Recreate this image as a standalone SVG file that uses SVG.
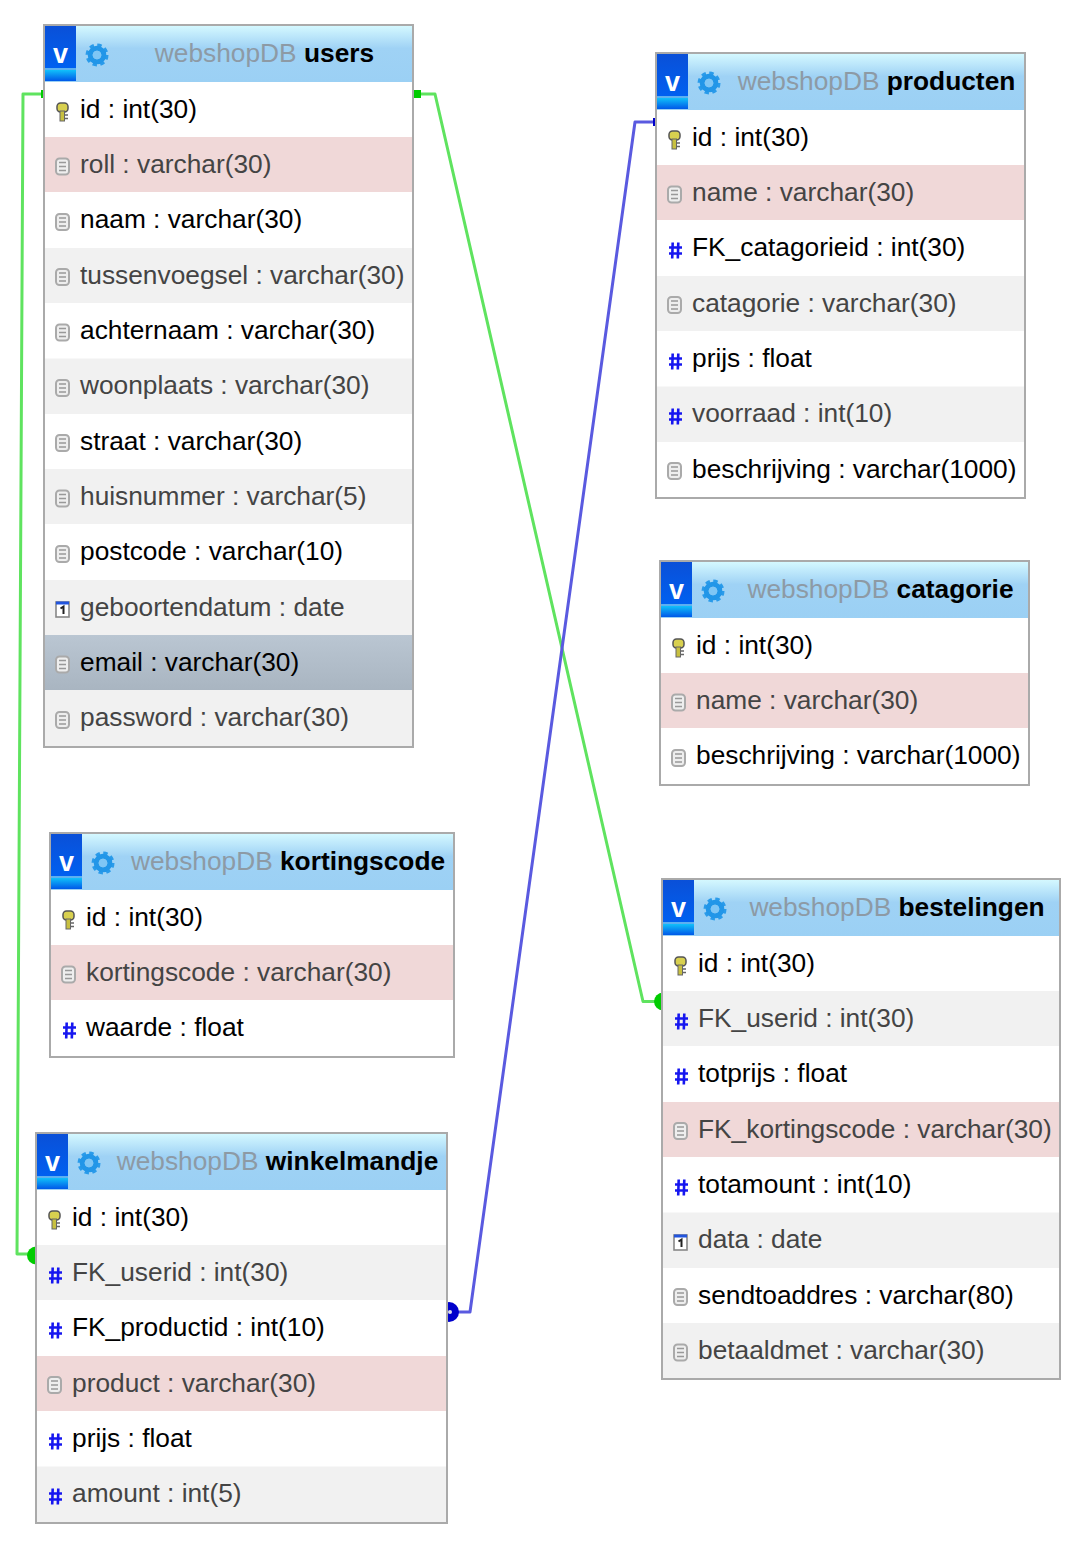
<svg xmlns="http://www.w3.org/2000/svg" width="1075" height="1542" viewBox="0 0 1075 1542">
<style>
text{font-family:"Liberation Sans",Arial,sans-serif;font-size:26.3px;fill:#000}
.frame{fill:#fff;stroke:#aaa;stroke-width:2}
.head{fill:url(#hg)}
.alt{fill:#f1f1f1}
.pink{fill:#f0d8d8}
.sel{fill:url(#sg)}
.dim{fill:#444}
.db{fill:#8d9aa5;font-weight:normal}
.tt{font-weight:bold;text-anchor:middle}
.g{fill:none;stroke:#5fe35f;stroke-width:3;stroke-linejoin:round}
.b{fill:none;stroke:#5a5ae0;stroke-width:3;stroke-linejoin:round}
</style>
<defs>
<filter id="soft" x="-30%" y="-30%" width="160%" height="160%"><feGaussianBlur stdDeviation="0.45"/></filter>
<linearGradient id="hg" x1="0" y1="0" x2="0" y2="1"><stop offset="0" stop-color="#d4f8ff"/><stop offset=".4" stop-color="#9fd2f5"/><stop offset="1" stop-color="#9bd0f4"/></linearGradient>
<linearGradient id="sg" x1="0" y1="0" x2="0" y2="1"><stop offset="0" stop-color="#bac6d2"/><stop offset="1" stop-color="#a9b5c1"/></linearGradient>
<linearGradient id="v1" x1="0" y1="0" x2="0" y2="1"><stop offset="0" stop-color="#0a50d8"/><stop offset="1" stop-color="#0060f0"/></linearGradient>
<linearGradient id="v2" x1="0" y1="0" x2="0" y2="1"><stop offset="0" stop-color="#10c0fa"/><stop offset="1" stop-color="#0058e8"/></linearGradient>
<g id="badge">
<rect x="1" y="1" width="31" height="55" fill="#5cb0f0"/>
<rect x="1" y="1" width="31" height="42" fill="url(#v1)"/>
<rect x="1" y="45" width="31" height="11" fill="url(#v2)"/>
<text x="16.500" y="38" text-anchor="middle" style="font-weight:bold;font-size:27px;fill:#fff">v</text>
<g filter="url(#soft)">
<circle cx="53" cy="30" r="10" fill="none" stroke="#2a9bea" stroke-width="3" stroke-dasharray="4.400 3.450"/>
<circle cx="53" cy="30" r="6.800" fill="none" stroke="#2196e8" stroke-width="5"/>
<circle cx="53" cy="30" r="4.300" fill="#7fc6f5"/>
</g>
</g>
<g id="key" filter="url(#soft)">
<rect x="-5.500" y="-9" width="11" height="9" rx="3.500" fill="#d8d050" stroke="#555" stroke-width="1.500"/>
<rect x="-2.500" y="-1" width="4.500" height="10" fill="#c8c040" stroke="#666" stroke-width="1"/>
<path d="M2 3h3.500M2 6.500h3.500" stroke="#666" stroke-width="1.500"/>
</g>
<g id="doc" filter="url(#soft)">
<rect x="-6.500" y="-8" width="13" height="16" rx="3.500" fill="#eee" stroke="#aaa" stroke-width="2"/>
<path d="M-3.500-4h7M-3.500 0h7M-3.500 4h7" stroke="#999" stroke-width="1.400"/>
</g>
<g id="num" filter="url(#soft)">
<path d="M-2.800-8-3.300 8M2.800-8 2.300 8M-6.500-3H6.500M-6.500 3H6.500" stroke="#1818f0" stroke-width="2.600" fill="none"/>
</g>
<g id="cal" filter="url(#soft)">
<rect x="-6.500" y="-7" width="13" height="15" fill="#fff" stroke="#888" stroke-width="1.600"/>
<rect x="-6.500" y="-7.500" width="13" height="3" fill="#2255dd"/>
<path d="M-2-.5 1-2.500V5" fill="none" stroke="#222" stroke-width="2"/>
</g>
</defs>

<g id="connectors">
<path class="g" d="M42 94H23L17 1254H30"/>
<rect x="41" y="90" width="3" height="8" fill="#00cc00"/>
<circle cx="36" cy="1255.500" r="9" fill="#00cc00"/>
<path class="g" d="M418 94H435L643 1001.500H656"/>
<rect x="414" y="90" width="7" height="8" fill="#00cc00"/>
<circle cx="663" cy="1001.500" r="9" fill="#00cc00"/>
<path class="b" d="M455 1312H470L635 122H654"/>
<rect x="653" y="118" width="3" height="8" fill="#0000cc"/>
<circle cx="449" cy="1312" r="10" fill="#0000cc"/>
<circle cx="450" cy="1312" r="2" fill="#dde"/>
</g>

<g id="users" transform="translate(44 25)">
<rect class="frame" x="0" y="0" width="369" height="722"/>
<rect class="head" x="1" y="1" width="367" height="56"/>
<use href="#badge"/>
<text class="tt" x="220.500" y="37"><tspan class="db">webshopDB</tspan> users</text>
<rect class="pink" x="1" y="112" width="367" height="55"/>
<rect class="alt" x="1" y="223" width="367" height="55"/>
<rect class="alt" x="1" y="333.500" width="367" height="55.500"/>
<rect class="alt" x="1" y="444" width="367" height="55"/>
<rect class="alt" x="1" y="555" width="367" height="55"/>
<rect class="sel" x="1" y="610" width="367" height="55"/>
<rect class="alt" x="1" y="665" width="367" height="56"/>
<use href="#key" x="18.500" y="87"/><text x="36" y="92.500">id : int(30)</text>
<use href="#doc" x="18.500" y="141.500"/><text class="dim" x="36" y="147.800">roll : varchar(30)</text>
<use href="#doc" x="18.500" y="197"/><text x="36" y="203.200">naam : varchar(30)</text>
<use href="#doc" x="18.500" y="252"/><text class="dim" x="36" y="258.500">tussenvoegsel : varchar(30)</text>
<use href="#doc" x="18.500" y="307.500"/><text x="36" y="313.800">achternaam : varchar(30)</text>
<use href="#doc" x="18.500" y="363"/><text class="dim" x="36" y="369.200">woonplaats : varchar(30)</text>
<use href="#doc" x="18.500" y="418"/><text x="36" y="424.500">straat : varchar(30)</text>
<use href="#doc" x="18.500" y="473.500"/><text class="dim" x="36" y="479.800">huisnummer : varchar(5)</text>
<use href="#doc" x="18.500" y="529"/><text x="36" y="535.200">postcode : varchar(10)</text>
<use href="#cal" x="18.500" y="584"/><text class="dim" x="36" y="590.500">geboortendatum : date</text>
<use href="#doc" x="18.500" y="639.500"/><text x="36" y="645.800">email : varchar(30)</text>
<use href="#doc" x="18.500" y="695"/><text class="dim" x="36" y="701.200">password : varchar(30)</text>
</g>

<g id="producten" transform="translate(656 53)">
<rect class="frame" x="0" y="0" width="369" height="445"/>
<rect class="head" x="1" y="1" width="367" height="56"/>
<use href="#badge"/>
<text class="tt" x="220.500" y="37"><tspan class="db">webshopDB</tspan> producten</text>
<rect class="pink" x="1" y="112" width="367" height="55"/>
<rect class="alt" x="1" y="223" width="367" height="55"/>
<rect class="alt" x="1" y="333.500" width="367" height="55.500"/>
<use href="#key" x="18.500" y="87"/><text x="36" y="92.500">id : int(30)</text>
<use href="#doc" x="18.500" y="141.500"/><text class="dim" x="36" y="147.800">name : varchar(30)</text>
<use href="#num" x="19.500" y="197.500"/><text x="36" y="203.200">FK_catagorieid : int(30)</text>
<use href="#doc" x="18.500" y="252"/><text class="dim" x="36" y="258.500">catagorie : varchar(30)</text>
<use href="#num" x="19.500" y="308.500"/><text x="36" y="313.800">prijs : float</text>
<use href="#num" x="19.500" y="363.500"/><text class="dim" x="36" y="369.200">voorraad : int(10)</text>
<use href="#doc" x="18.500" y="418"/><text x="36" y="424.500">beschrijving : varchar(1000)</text>
</g>

<g id="catagorie" transform="translate(660 561)">
<rect class="frame" x="0" y="0" width="369" height="224"/>
<rect class="head" x="1" y="1" width="367" height="56"/>
<use href="#badge"/>
<text class="tt" x="220.500" y="37"><tspan class="db">webshopDB</tspan> catagorie</text>
<rect class="pink" x="1" y="112" width="367" height="55"/>
<use href="#key" x="18.500" y="87"/><text x="36" y="92.500">id : int(30)</text>
<use href="#doc" x="18.500" y="141.500"/><text class="dim" x="36" y="147.800">name : varchar(30)</text>
<use href="#doc" x="18.500" y="197"/><text x="36" y="203.200">beschrijving : varchar(1000)</text>
</g>

<g id="kortingscode" transform="translate(50 833)">
<rect class="frame" x="0" y="0" width="404" height="224"/>
<rect class="head" x="1" y="1" width="402" height="56"/>
<use href="#badge"/>
<text class="tt" x="238" y="37"><tspan class="db">webshopDB</tspan> kortingscode</text>
<rect class="pink" x="1" y="112" width="402" height="55"/>
<use href="#key" x="18.500" y="87"/><text x="36" y="92.500">id : int(30)</text>
<use href="#doc" x="18.500" y="141.500"/><text class="dim" x="36" y="147.800">kortingscode : varchar(30)</text>
<use href="#num" x="19.500" y="197.500"/><text x="36" y="203.200">waarde : float</text>
</g>

<g id="winkelmandje" transform="translate(36 1133)">
<rect class="frame" x="0" y="0" width="411" height="390"/>
<rect class="head" x="1" y="1" width="409" height="56"/>
<use href="#badge"/>
<text class="tt" x="241.500" y="37"><tspan class="db">webshopDB</tspan> winkelmandje</text>
<rect class="alt" x="1" y="112" width="409" height="55"/>
<rect class="pink" x="1" y="223" width="409" height="55"/>
<rect class="alt" x="1" y="333.500" width="409" height="55.500"/>
<use href="#key" x="18.500" y="87"/><text x="36" y="92.500">id : int(30)</text>
<use href="#num" x="19.500" y="142.500"/><text class="dim" x="36" y="147.800">FK_userid : int(30)</text>
<use href="#num" x="19.500" y="197.500"/><text x="36" y="203.200">FK_productid : int(10)</text>
<use href="#doc" x="18.500" y="252"/><text class="dim" x="36" y="258.500">product : varchar(30)</text>
<use href="#num" x="19.500" y="308.500"/><text x="36" y="313.800">prijs : float</text>
<use href="#num" x="19.500" y="363.500"/><text class="dim" x="36" y="369.200">amount : int(5)</text>
</g>

<g id="bestelingen" transform="translate(662 879)">
<rect class="frame" x="0" y="0" width="398" height="500"/>
<rect class="head" x="1" y="1" width="396" height="56"/>
<use href="#badge"/>
<text class="tt" x="235" y="37"><tspan class="db">webshopDB</tspan> bestelingen</text>
<rect class="alt" x="1" y="112" width="396" height="55"/>
<rect class="pink" x="1" y="223" width="396" height="55"/>
<rect class="alt" x="1" y="333.500" width="396" height="55.500"/>
<rect class="alt" x="1" y="444" width="396" height="55"/>
<use href="#key" x="18.500" y="87"/><text x="36" y="92.500">id : int(30)</text>
<use href="#num" x="19.500" y="142.500"/><text class="dim" x="36" y="147.800">FK_userid : int(30)</text>
<use href="#num" x="19.500" y="197.500"/><text x="36" y="203.200">totprijs : float</text>
<use href="#doc" x="18.500" y="252"/><text class="dim" x="36" y="258.500">FK_kortingscode : varchar(30)</text>
<use href="#num" x="19.500" y="308.500"/><text x="36" y="313.800">totamount : int(10)</text>
<use href="#cal" x="18.500" y="363"/><text class="dim" x="36" y="369.200">data : date</text>
<use href="#doc" x="18.500" y="418"/><text x="36" y="424.500">sendtoaddres : varchar(80)</text>
<use href="#doc" x="18.500" y="473.500"/><text class="dim" x="36" y="479.800">betaaldmet : varchar(30)</text>
</g>
</svg>
